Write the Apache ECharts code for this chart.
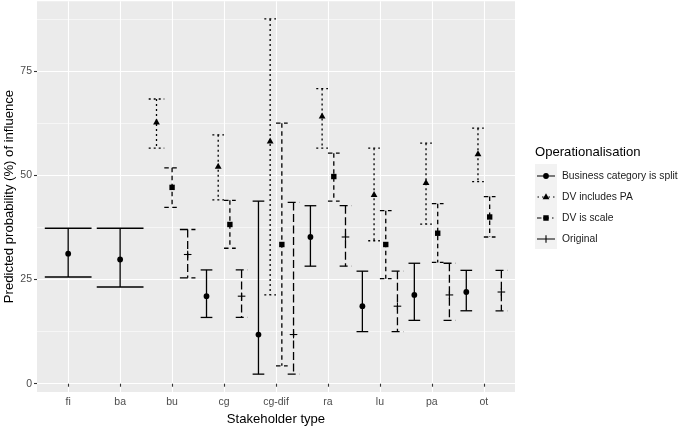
<!DOCTYPE html>
<html>
<head>
<meta charset="utf-8">
<script src="https://cdn.jsdelivr.net/npm/echarts@6/dist/echarts.min.js"></script>
<style>html,body{margin:0;padding:0;background:#fff}#c{width:685px;height:426px}</style>
</head>
<body>
<div id="c"></div>
<script>
const categories = ['fi', 'ba', 'bu', 'cg', 'cg-dif', 'ra', 'lu', 'pa', 'ot'];

const businessEst  = [31.2, 29.8, null, 21.0, 11.8, 35.2, 18.6, 21.3, 22.0];
const businessLow  = [25.6, 23.2, null, 15.9,  2.3, 28.2, 12.5, 15.2, 17.5];
const businessHigh = [37.3, 37.3, null, 27.3, 43.8, 42.7, 27.0, 28.9, 27.2];

const paEst  = [null, null, 62.7, 52.1, 58.1, 64.1, 45.3, 48.2, 55.1];
const paLow  = [null, null, 56.5, 44.1, 21.3, 56.5, 34.3, 38.3, 48.5];
const paHigh = [null, null, 68.3, 59.7, 87.5, 70.8, 56.5, 57.7, 61.3];

const scaleEst  = [null, null, 47.1, 38.2, 33.4, 49.7, 33.4, 36.1, 40.0];
const scaleLow  = [null, null, 42.3, 32.5,  4.3, 43.8, 25.2, 29.1, 35.2];
const scaleHigh = [null, null, 51.8, 44.0, 62.5, 55.3, 41.5, 43.2, 44.9];

const originalEst  = [null, null, 31.0, 21.0, 11.8, 35.2, 18.6, 21.3, 22.0];
const originalLow  = [null, null, 25.4, 15.9,  2.3, 28.2, 12.5, 15.2, 17.5];
const originalHigh = [null, null, 37.0, 27.3, 43.5, 42.7, 27.0, 28.9, 27.2];

const seriesNames = ['Business category is split', 'DV includes PA', 'DV is scale', 'Original'];
const yTicks = [0, 25, 50, 75];
const yMinorTicks = [12.5, 37.5, 62.5, 87.5];

const FONT = "'Liberation Sans', Arial, Helvetica, sans-serif";
const groups = [
  {name: seriesNames[0], est: businessEst, low: businessLow, high: businessHigh, dash: null, shape: 'circle'},
  {name: seriesNames[1], est: paEst, low: paLow, high: paHigh, dash: [2, 3], shape: 'triangle'},
  {name: seriesNames[2], est: scaleEst, low: scaleLow, high: scaleHigh, dash: [4.5, 3.5], shape: 'square'},
  {name: seriesNames[3], est: originalEst, low: originalLow, high: originalHigh, dash: [8, 3.5], shape: 'plus'}
];

const DODGE = 0.9;
const LW = 1.3;

function presentGroups(ci) {
  const res = [];
  groups.forEach((g, i) => { if (g.est[ci] != null) res.push(i); });
  return res;
}

function makeRender(gi) {
  return function (params, api) {
    const ci = api.value(0);
    const est = api.value(1), low = api.value(2), high = api.value(3);
    const present = presentGroups(ci);
    const n = present.length;
    const k = present.indexOf(gi);
    const w = DODGE / n;
    const x = ci + 1 + (k - (n - 1) / 2) * w;
    const pTop = api.coord([x, high]);
    const pBot = api.coord([x, low]);
    const pMid = api.coord([x, est]);
    const xl = api.coord([x - w / 2, high])[0];
    const xr = api.coord([x + w / 2, high])[0];
    const ls = {stroke: '#000', lineWidth: LW, lineDash: groups[gi].dash, fill: null};
    const children = [
      {type: 'line', shape: {x1: xl, y1: pTop[1], x2: xr, y2: pTop[1]}, style: ls},
      {type: 'line', shape: {x1: pTop[0], y1: pTop[1], x2: pBot[0], y2: pBot[1]}, style: ls},
      {type: 'line', shape: {x1: xl, y1: pBot[1], x2: xr, y2: pBot[1]}, style: ls}
    ];
    const cx = pMid[0], cy = pMid[1];
    const shape = groups[gi].shape;
    if (shape === 'circle') {
      children.push({type: 'circle', shape: {cx: cx, cy: cy, r: 2.9}, style: {fill: '#000'}});
    } else if (shape === 'triangle') {
      children.push({type: 'polygon', shape: {points: [[cx, cy - 3.9], [cx - 3.4, cy + 2.1], [cx + 3.4, cy + 2.1]]}, style: {fill: '#000'}});
    } else if (shape === 'square') {
      children.push({type: 'rect', shape: {x: cx - 2.7, y: cy - 2.7, width: 5.4, height: 5.4}, style: {fill: '#000'}});
    } else {
      const ps = {stroke: '#000', lineWidth: 1.1};
      children.push({type: 'line', shape: {x1: cx - 3.8, y1: cy, x2: cx + 3.8, y2: cy}, style: ps});
      children.push({type: 'line', shape: {x1: cx, y1: cy - 3.8, x2: cx, y2: cy + 3.8}, style: ps});
    }
    return {type: 'group', children: children};
  };
}

// legend key icons (22 x 14 box)
const anchor = 'M0 0 L0.01 0 L0 0.01 Z M22 14 L21.99 14 L22 13.99 Z ';
function hr(x1, x2) { return 'M' + x1 + ' 6.4 L' + x2 + ' 6.4 L' + x2 + ' 7.6 L' + x1 + ' 7.6 Z '; }
const legendIcons = [
  'path://' + anchor + hr(2, 20) + 'M13.9 7 A2.9 2.9 0 1 1 8.1 7 A2.9 2.9 0 1 1 13.9 7 Z',
  'path://' + anchor + hr(2.5, 4) + hr(7, 8.5) + hr(13.5, 15) + hr(18, 19.5) + 'M11 3.3 L14.4 9.3 L7.6 9.3 Z',
  'path://' + anchor + hr(2, 6.5) + hr(8, 14) + hr(17, 18.5) + 'M8.3 4.3 L13.7 4.3 L13.7 9.7 L8.3 9.7 Z',
  'path://' + anchor + hr(2, 20) + 'M10.45 3.2 L11.55 3.2 L11.55 10.8 L10.45 10.8 Z'
];

const series = groups.map((g, gi) => ({
  name: g.name,
  type: 'custom',
  renderItem: makeRender(gi),
  itemStyle: {color: '#000'},
  encode: {x: 0, y: [1, 2, 3]},
  silent: true,
  data: categories.map((c, ci) => g.est[ci] == null ? null : [ci, g.est[ci], g.low[ci], g.high[ci]]).filter(d => d)
}));

const chart = echarts.init(document.getElementById('c'), null, {renderer: 'canvas'});
chart.setOption({
  animation: false,
  backgroundColor: '#fff',
  textStyle: {fontFamily: FONT},
  title: {
    text: 'Operationalisation', left: 535, top: 146, padding: 0,
    textStyle: {fontSize: 13.1, fontWeight: 'normal', color: '#000', fontFamily: FONT}
  },
  graphic: [{type: 'rect', shape: {x: 535, y: 164, width: 22, height: 85}, style: {fill: '#F2F2F2'}, z: -1}],
  legend: {
    orient: 'vertical', left: 535, top: 169, itemWidth: 22, itemHeight: 14, itemGap: 7, padding: 0,
    selectedMode: false,
    textStyle: {fontSize: 10.3, color: '#1A1A1A', fontFamily: FONT},
    data: groups.map((g, i) => ({name: g.name, icon: legendIcons[i]}))
  },
  grid: {left: 37, right: 170, top: 1.2, bottom: 34.1, show: true, backgroundColor: '#EBEBEB', borderWidth: 0, containLabel: false, outerBoundsMode: 'none'},
  xAxis: {
    type: 'value', min: 0.4, max: 9.6,
    name: 'Stakeholder type', nameLocation: 'middle', nameGap: 10,
    nameTextStyle: {fontSize: 13.1, color: '#000', fontFamily: FONT},
    axisLine: {show: false},
    axisTick: {show: true, length: 3, lineStyle: {color: '#333', width: 1.1}, customValues: categories.map((c, i) => i + 1)},
    axisLabel: {customValues: categories.map((c, i) => i + 1), formatter: v => categories[Math.round(v) - 1] || '', fontSize: 10.5, color: '#4D4D4D', margin: 5, fontFamily: FONT},
    splitLine: {show: true, lineStyle: {color: '#fff', width: 1.1}}
  },
  yAxis: [{
    type: 'value', min: -1.96, max: 91.76,
    name: 'Predicted probability (%) of influence', nameLocation: 'middle', nameGap: 21, nameMoveOverlap: false,
    nameTextStyle: {fontSize: 13.1, color: '#000', fontFamily: FONT},
    axisLine: {show: false},
    axisTick: {show: true, length: 3, lineStyle: {color: '#333', width: 1.1}, customValues: yTicks},
    axisLabel: {customValues: yTicks, fontSize: 10.5, color: '#4D4D4D', margin: 5, fontFamily: FONT},
    splitLine: {show: true, lineStyle: {color: '#fff', width: 1.1}}
  }, {
    type: 'value', min: -1.96, max: 91.76, position: 'left',
    axisLine: {show: false},
    axisTick: {show: false, customValues: yMinorTicks},
    axisLabel: {show: false, customValues: yMinorTicks},
    splitLine: {show: true, lineStyle: {color: '#fff', width: 0.55}}
  }],
  series: series
});
</script>
</body>
</html>
